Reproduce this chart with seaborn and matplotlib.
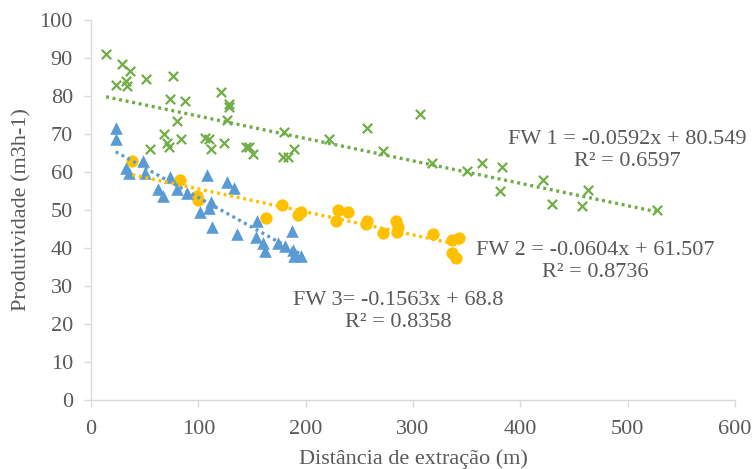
import numpy as np
import pandas as pd
import matplotlib
matplotlib.use("Agg")
import matplotlib.pyplot as plt
import seaborn as sns

# ---- data ----
fw1_x = [14, 29, 36, 23, 33, 33.5, 51, 76, 74, 88, 80, 68, 71, 73, 84, 55,
         121, 129, 129, 127, 106, 110, 112, 124, 144, 147, 151, 180, 179, 184,
         189, 222, 257, 306.5, 272, 318, 350, 364, 383, 381, 421, 429.5, 463,
         457.5, 527]
fw1_y = [91, 88.4, 86.5, 83, 84, 82.6, 84.4, 85.2, 79.2, 78.6, 73.3, 70, 67.5,
         66.7, 68.8, 66, 81, 77.8, 77, 73.6, 69, 68.6, 66, 67.5, 66.5, 66.5,
         64.8, 70.5, 64, 64, 66, 68.6, 71.5, 75.3, 65.6, 62.3, 60.3, 62.3, 61.2,
         55, 57.8, 51.7, 55.2, 51, 50]

fw2_x = [38.5, 82.5, 98.5, 99.5, 163, 177.5, 192.5, 196, 228, 230, 239, 256,
         257, 272, 284.5, 286, 285, 318.5, 336, 343, 336, 340]
fw2_y = [62.8, 58, 53.8, 52.5, 47.8, 51.2, 48.6, 49.5, 47.2, 49.9, 49.5, 46.2,
         47, 44, 47, 45.6, 44.2, 43.7, 42, 42.5, 38.8, 37.4]

fw3_x = [23, 23, 33, 35, 48.5, 50, 62.5, 67, 73.5, 80.5, 89, 101.5, 108, 110,
         111.5, 113, 126.5, 133, 136, 154.5, 153.5, 160.5, 162.5, 174.5, 180.5,
         187, 188, 189, 196]
fw3_y = [71.7, 68.8, 61, 59.8, 63, 59.8, 55.5, 53.6, 58.8, 55.5, 54.6, 49.6,
         59.1, 50.4, 52.2, 45.4, 57.4, 55.7, 43.6, 47, 43, 41.4, 39.3, 41.2,
         40.4, 44.4, 39.5, 37.9, 37.9]

labels = ["FW 1 = -0.0592x + 80.549\nR\u00b2 = 0.6597",
          "FW 2 = -0.0604x + 61.507\nR\u00b2 = 0.8736",
          "FW 3= -0.1563x + 68.8\nR\u00b2 = 0.8358"]

x_ticks = [0, 100, 200, 300, 400, 500, 600]
y_ticks = [0, 10, 20, 30, 40, 50, 60, 70, 80, 90, 100]

# ---- style ----
sns.set_theme(style="white")
plt.rcParams["font.family"] = ["Liberation Serif", "DejaVu Serif"]
TXT = "#595959"
AX = "#D9D9D9"

fig = plt.figure(figsize=(7.55, 4.69), dpi=100)
ax = fig.add_axes([91 / 755, 69 / 469, 644 / 755, 380 / 469])

series = [
    (fw1_x, fw1_y, "#70AD47", "x", 45, 1.6),
    (fw2_x, fw2_y, "#FFC000", "o", 78, 0),
    (fw3_x, fw3_y, "#5B9BD5", "^", 82, 0),
]

for xs, ys, col, mk, s, lw in series:
    df = pd.DataFrame({"x": xs, "y": ys})
    sns.scatterplot(data=df, x="x", y="y", ax=ax, color=col, marker=mk, s=s,
                    linewidth=lw, edgecolor=col if mk != "x" else None,
                    zorder=3, legend=False)

for xs, ys, col, mk, s, lw in series:
    df = pd.DataFrame({"x": xs, "y": ys})
    sns.regplot(data=df, x="x", y="y", ax=ax, scatter=False, ci=None,
                truncate=True,
                line_kws=dict(color=col, lw=2.4, linestyle=(0, (0.9, 1.1)),
                              zorder=4))

ax.set_xlim(0, 600)
ax.set_ylim(0, 100)
ax.set_xticks(x_ticks)
ax.set_yticks(y_ticks)
ax.tick_params(axis="both", which="major", direction="out", length=5,
               width=1, color=AX, labelcolor=TXT, labelsize=16,
               bottom=True, left=True)
ax.tick_params(axis="x", pad=9.5)
ax.tick_params(axis="y", pad=8)
for side in ["top", "right"]:
    ax.spines[side].set_visible(False)
for side in ["left", "bottom"]:
    ax.spines[side].set_color(AX)
    ax.spines[side].set_linewidth(1)
ax.grid(False)

ax.set_xlabel("Distância de extração (m)", fontsize=16, color=TXT, labelpad=7)
ax.set_ylabel("Produtividade (m3h-1)", fontsize=16, color=TXT, labelpad=6)

# trendline labels (positions in data coords)
kw = dict(ha="center", va="center", fontsize=16, color=TXT,
          linespacing=1.25, zorder=5)
ax.text(499.5, 65.7, labels[0], **kw)
ax.text(469.5, 36.4, labels[1], **kw)
ax.text(286, 23.3, labels[2], **kw)

fig.savefig("out.png", dpi=100, facecolor="white")
